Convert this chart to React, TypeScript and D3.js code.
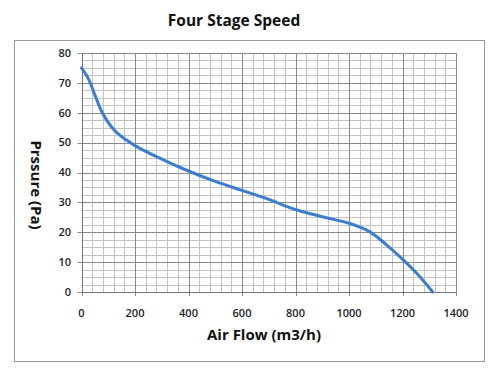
import React from "react";
import * as d3 from "d3";

const flow = [0, 25, 50, 75, 100, 130, 200, 300, 400, 500, 600, 700, 800, 900, 1000, 1075, 1140, 1200, 1260, 1313];
const pressure = [75, 71.5, 66, 60.5, 56.7, 53.5, 49, 44.5, 40.5, 37, 34, 31, 27.6, 25.2, 23, 20.3, 15.8, 11, 5.6, 0];
const xTicks = [0, 200, 400, 600, 800, 1000, 1200, 1400];
const yTicks = [0, 10, 20, 30, 40, 50, 60, 70, 80];

const title = "Four Stage Speed";
const xTitle = "Air Flow (m3/h)";
const yTitle = "Prssure (Pa)";

export default function App() {
  const W = 500, H = 379;
  const x = d3.scaleLinear().domain([0, 1400]).range([81.5, 456]);
  const y = d3.scaleLinear().domain([0, 80]).range([292, 53]);
  const minorX = d3.range(0, 1400.1, 40);
  const minorY = d3.range(0, 80.1, 2.5);
  const pts = flow.map((f, i) => [f, pressure[i]] as [number, number]);
  const line = d3.line<[number, number]>().x(d => x(d[0])).y(d => y(d[1])).curve(d3.curveCatmullRom.alpha(0.5));
  const font = "'Open Sans', 'DejaVu Sans', sans-serif";
  return (
    <svg width={W} height={H} style={{ position: "absolute", left: 0, top: 0, background: "#fff" }}>
      <rect x={14.5} y={40.5} width={470} height={321} fill="#fff" stroke="#999" strokeWidth={1} />
      <text x={234} y={26} textAnchor="middle" fontFamily={font} fontWeight={700} fontSize={15.5} fill="#111">{title}</text>
      {minorY.map(v => (
        <line key={"my" + v} x1={x(0)} x2={x(1400)} y1={Math.round(y(v)) + 0.5} y2={Math.round(y(v)) + 0.5} stroke="#c4c4c4" strokeWidth={1} />
      ))}
      {minorX.map(v => (
        <line key={"mx" + v} x1={Math.round(x(v)) + 0.5} x2={Math.round(x(v)) + 0.5} y1={y(0)} y2={y(80)} stroke="#c4c4c4" strokeWidth={1} />
      ))}
      {yTicks.map(v => (
        <line key={"gy" + v} x1={x(0) - 4} x2={x(1400)} y1={Math.round(y(v)) + 0.5} y2={Math.round(y(v)) + 0.5} stroke="#8a8a8a" strokeWidth={1} />
      ))}
      {xTicks.map(v => (
        <line key={"gx" + v} x1={Math.round(x(v)) + 0.5} x2={Math.round(x(v)) + 0.5} y1={y(0) + 4} y2={y(80)} stroke="#8a8a8a" strokeWidth={1} />
      ))}
      <line x1={Math.round(x(0)) + 0.5} x2={Math.round(x(0)) + 0.5} y1={y(0)} y2={y(80)} stroke="#777" />
      <line x1={x(0)} x2={x(1400)} y1={Math.round(y(0)) + 0.5} y2={Math.round(y(0)) + 0.5} stroke="#777" />
      {yTicks.map(v => (
        <text key={"ty" + v} x={71} y={y(v)} dy="0.35em" textAnchor="end" fontFamily={font} fontWeight={600} fontSize={11} fill="#1c1c2c">{v}</text>
      ))}
      {xTicks.map(v => (
        <text key={"tx" + v} x={x(v)} y={313} dy="0.35em" textAnchor="middle" fontFamily={font} fontWeight={600} fontSize={11} fill="#1c1c2c">{v}</text>
      ))}
      <path d={line(pts) || ""} fill="none" stroke="#3b7dd0" strokeWidth={3} strokeLinecap="round" strokeLinejoin="round" />
      <text x={264} y={340} textAnchor="middle" fontFamily={font} fontWeight={700} fontSize={15} fill="#111">{xTitle}</text>
      <text transform={`translate(31,185) rotate(90)`} textAnchor="middle" fontFamily={font} fontWeight={700} fontSize={15} fill="#111">{yTitle}</text>
    </svg>
  );
}
